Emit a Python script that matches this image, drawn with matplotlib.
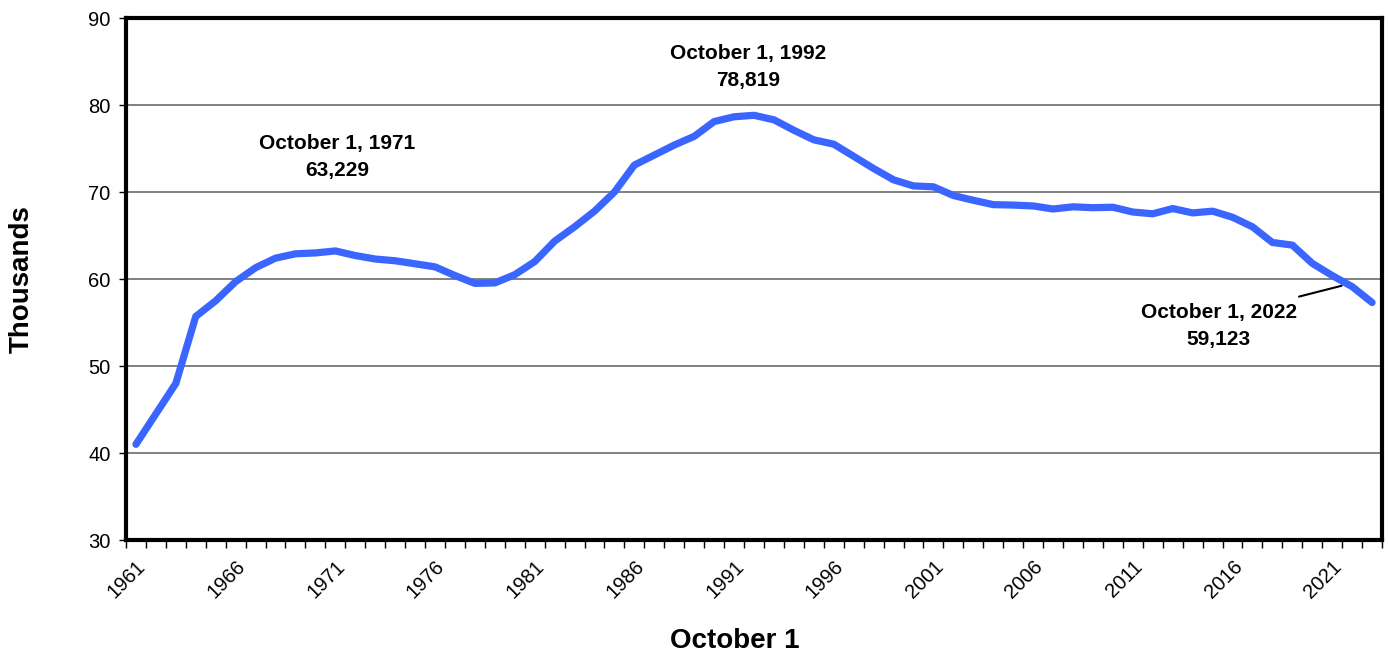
import matplotlib.pyplot as plt
import matplotlib.font_manager as fm

# Dados: total em milhares, 1 de outubro de cada ano
anos = list(range(1961, 2024))
valores = [
    41.0, 44.5, 48.0, 55.7, 57.5, 59.7, 61.3, 62.4, 62.9, 63.0,
    63.229, 62.7, 62.3, 62.1, 61.75, 61.4, 60.4, 59.5, 59.55, 60.5,
    62.0, 64.35, 66.0, 67.8, 70.0, 73.1, 74.25, 75.4, 76.4, 78.1,
    78.65, 78.819, 78.3, 77.1, 76.0, 75.5, 74.1, 72.7, 71.4, 70.7,
    70.6, 69.6, 69.05, 68.55, 68.5, 68.4, 68.05, 68.3, 68.2, 68.25,
    67.7, 67.5, 68.1, 67.6, 67.8, 67.1, 66.0, 64.2, 63.9, 61.8,
    60.4, 59.123, 57.3,
]
rotulos_x = [str(a) for a in range(1961, 2022, 5)]

destaques = [
    ("October 1, 1971\n63,229", 1971.1, 74.0),
    ("October 1, 1992\n78,819", 1991.7, 84.4),
    ("October 1, 2022\n59,123", 2015.3, 54.6),
]

nomes = {f.name for f in fm.fontManager.ttflist}
fonte_ticks = 'Liberation Sans Narrow' if 'Liberation Sans Narrow' in nomes else 'Liberation Sans'
tam_ticks = 16 if fonte_ticks == 'Liberation Sans Narrow' else 14.5
plt.rcParams['font.family'] = ['Liberation Sans', 'DejaVu Sans']

fig = plt.figure(figsize=(13.89, 6.58), dpi=100)
ax = fig.add_axes([0.0907, 0.1793, 0.9043, 0.7933])

ax.plot(anos, valores, color='#3a66ff', linewidth=5.2, solid_capstyle='round',
        solid_joinstyle='round', zorder=3)

ax.set_xlim(1960.5, 2023.5)
ax.set_ylim(30, 90)
ax.set_yticks(range(30, 91, 10))
for v in range(40, 90, 10):
    ax.axhline(v, color='#808080', linewidth=1.4, zorder=1)

# marcas nas divisas das categorias, rótulos no centro
ax.set_xticks([1960.5 + k for k in range(64)])
ax.set_xticklabels([])
ax.tick_params(axis='x', which='major', length=6, width=1, direction='out')
ax.set_xticks([int(r) for r in rotulos_x], minor=True)
ax.set_xticklabels(rotulos_x, minor=True, rotation=45, ha='right',
                   rotation_mode='anchor', fontfamily=fonte_ticks, fontsize=tam_ticks)
ax.tick_params(axis='x', which='minor', length=0, pad=12)
ax.tick_params(axis='y', length=5, width=1, direction='out', pad=6)
for lab in ax.get_yticklabels():
    lab.set_fontfamily(fonte_ticks)
    lab.set_fontsize(tam_ticks)

for s in ax.spines.values():
    s.set_linewidth(3)
    s.set_color('black')

ax.set_ylabel('Thousands', fontsize=20, fontweight='bold', va='center')
ax.yaxis.set_label_coords(-0.0828, 0.5)
ax.set_xlabel('October 1', fontsize=20, fontweight='bold', va='center')
ax.xaxis.set_label_coords(0.485, -0.193)

for texto, x, y in destaques:
    ax.text(x, y, texto, ha='center', va='center', fontsize=15,
            fontweight='bold', linespacing=1.55, zorder=4)

ax.annotate('', xy=(2021.6, 59.3), xytext=(2019.2, 57.9),
            arrowprops=dict(arrowstyle='-', color='black', linewidth=1.5))

plt.savefig('out.png', dpi=100)
plt.close()
